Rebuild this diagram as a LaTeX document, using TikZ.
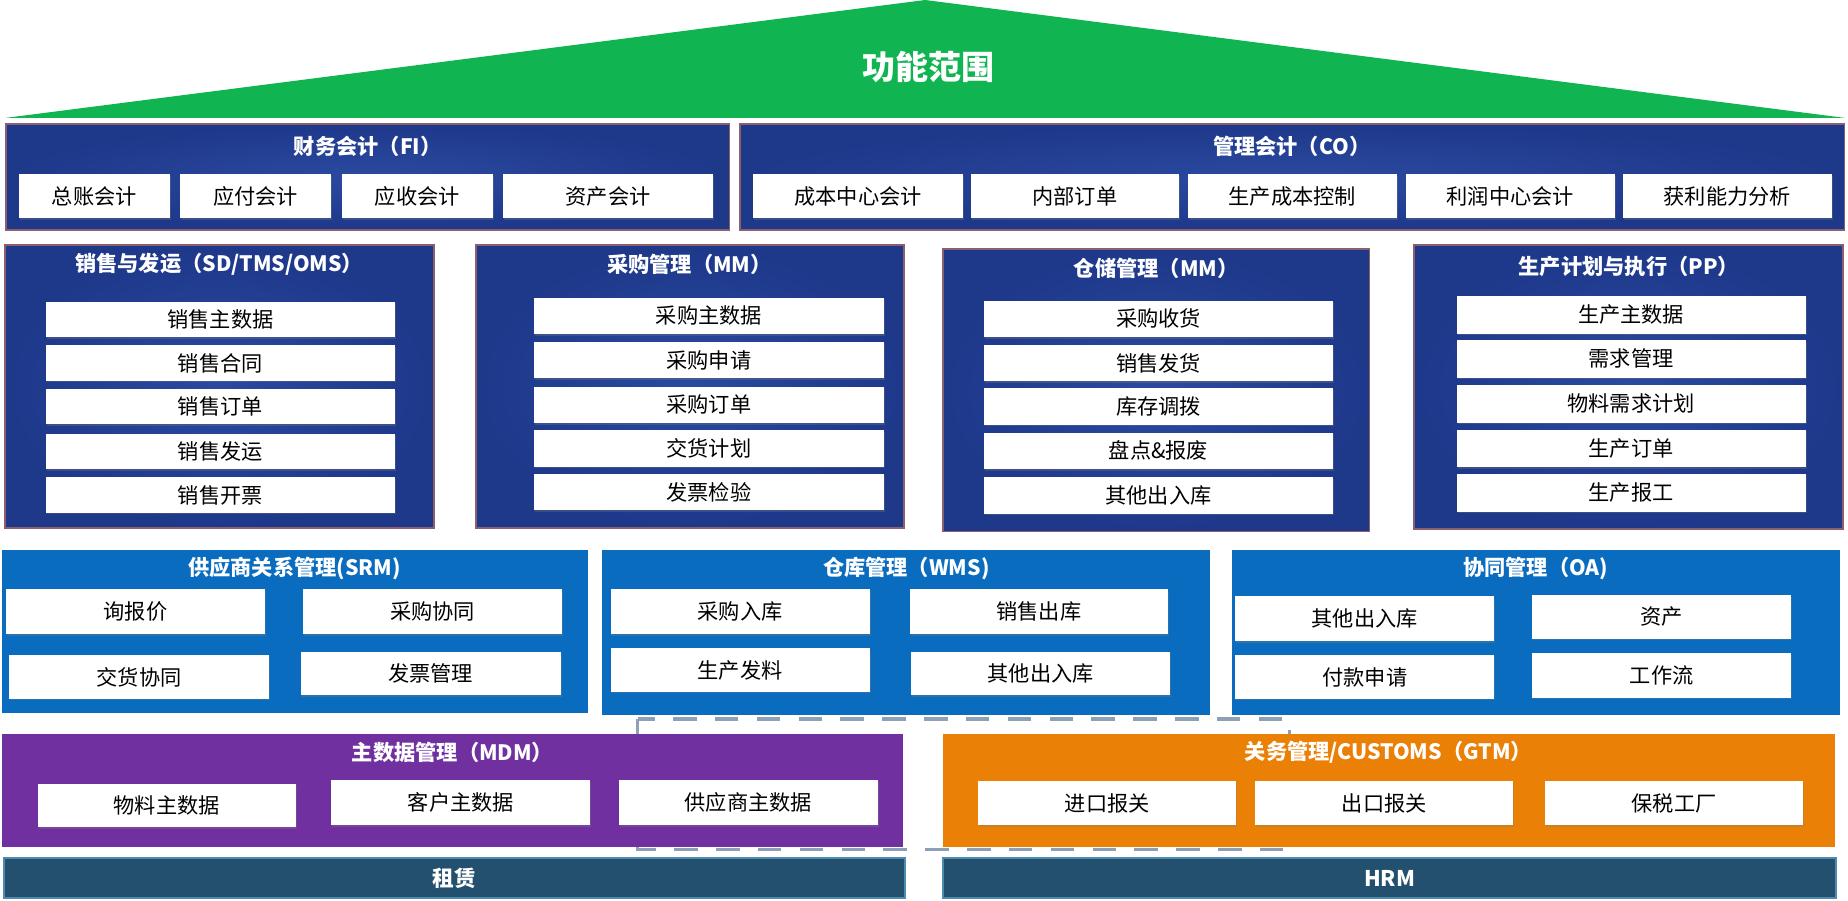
\documentclass[tikz,border=0pt]{standalone}
\usepackage{fontspec}
\setmainfont{Noto Sans CJK SC}
\usetikzlibrary{shadows}

\definecolor{scopegreen}{HTML}{10B450}
\definecolor{modinner}{HTML}{2A4AA0}
\definecolor{modouter}{HTML}{1E388A}
\definecolor{modframe}{HTML}{8B5F6E}
\definecolor{colblue}{HTML}{0A6CBF}
\definecolor{mdmpurple}{HTML}{7030A0}
\definecolor{gtmorange}{HTML}{EB8007}
\definecolor{basefill}{HTML}{22506E}
\definecolor{baseframe}{HTML}{4D8BB0}
\definecolor{dashgray}{HTML}{8DA0B5}

\begin{document}
\begin{tikzpicture}[
  x=0.6pt, y=-0.6pt,
  dims/.style 2 args = {minimum width=#1*0.6pt, minimum height=#2*0.6pt},
  module/.style = {draw=modframe, line width=0.9pt, inner sep=0pt,
                   inner color=modinner, outer color=modouter},
  collab/.style = {fill=colblue, inner sep=0pt},
  mdmbox/.style = {fill=mdmpurple, inner sep=0pt},
  gtmbox/.style = {fill=gtmorange, inner sep=0pt},
  basebar/.style = {fill=basefill, draw=baseframe, line width=1pt, inner sep=0pt,
                    text=white, font=\bfseries\fontsize{11}{12}\selectfont},
  item/.style = {fill=white, inner sep=0pt, font=\fontsize{10.8}{12}\selectfont,
                 drop shadow={shadow xshift=0.5pt, shadow yshift=-0.8pt, opacity=0.3}},
  head/.style = {text=white, inner sep=0pt, font=\bfseries\fontsize{10.8}{12}\selectfont},
]
  \useasboundingbox (0,0) rectangle (1568,764);

  % roof
  \fill[scopegreen] (5,100) -- (785,0) -- (1565,100) -- cycle;
  \node[text=white, inner sep=0pt, font=\bfseries\fontsize{16.8}{18}\selectfont] (scopeT) at (788,57) {功能范围};

  % dashed frame behind the lower rows
  \draw[dashgray, line width=1.7pt, dash pattern=on 12pt off 9.3pt] (541,610) rectangle (1094,721);

  % financial accounting
  \node[module, dims={614}{90}] (fi) at (312,150) {};
  \node[head] (fiT) at (312,124) {财务会计（FI）};
  \node[item, dims={128}{37}] (fi1) at (80,166.5)  {总账会计};
  \node[item, dims={128}{37}] (fi2) at (217,166.5) {应付会计};
  \node[item, dims={128}{37}] (fi3) at (354,166.5) {应收会计};
  \node[item, dims={178}{37}] (fi4) at (516,166.5) {资产会计};

  % controlling
  \node[module, dims={937}{90}] (co) at (1096.5,150) {};
  \node[head] (coT) at (1096,124) {管理会计（CO）};
  \node[item, dims={178}{37}] (co1) at (728,166.5)    {成本中心会计};
  \node[item, dims={176}{37}] (co2) at (912,166.5)    {内部订单};
  \node[item, dims={177}{37}] (co3) at (1096.5,166.5) {生产成本控制};
  \node[item, dims={177}{37}] (co4) at (1281.5,166.5) {利润中心会计};
  \node[item, dims={177}{37}] (co5) at (1465.5,166.5) {获利能力分析};

  % sales and distribution
  \node[module, dims={364}{240}] (sd) at (186,328) {};
  \node[head] (sdT) at (186,224) {销售与发运（SD/TMS/OMS）};
  \node[item, dims={296}{30}] (sd1) at (187,271) {销售主数据};
  \node[item, dims={296}{30}] (sd2) at (187,308) {销售合同};
  \node[item, dims={296}{30}] (sd3) at (187,345) {销售订单};
  \node[item, dims={296}{30}] (sd4) at (187,383) {销售发运};
  \node[item, dims={296}{30}] (sd5) at (187,420) {销售开票};

  % purchasing
  \node[module, dims={363}{240}] (mm) at (585.5,328) {};
  \node[head] (mmT) at (585,224) {采购管理（MM）};
  \node[item, dims={297}{31}] (mm1) at (601.5,268)   {采购主数据};
  \node[item, dims={297}{31}] (mm2) at (601.5,305.5) {采购申请};
  \node[item, dims={297}{31}] (mm3) at (601.5,343.5) {采购订单};
  \node[item, dims={297}{31}] (mm4) at (601.5,380.5) {交货计划};
  \node[item, dims={297}{31}] (mm5) at (601.5,417.5) {发票检验};

  % inventory
  \node[module, dims={362}{240}] (wh) at (981,331) {};
  \node[head] (whT) at (981,228) {仓储管理（MM）};
  \node[item, dims={296}{31}] (wh1) at (983,270.5) {采购收货};
  \node[item, dims={296}{31}] (wh2) at (983,308)   {销售发货};
  \node[item, dims={296}{31}] (wh3) at (983,345)   {库存调拨};
  \node[item, dims={296}{31}] (wh4) at (983,382.5) {盘点\&报废};
  \node[item, dims={296}{31}] (wh5) at (983,420.5) {其他出入库};

  % production
  \node[module, dims={364}{241}] (pp) at (1382,328.5) {};
  \node[head] (ppT) at (1382,226) {生产计划与执行（PP）};
  \node[item, dims={296}{32}] (pp1) at (1384,267)   {生产主数据};
  \node[item, dims={296}{32}] (pp2) at (1384,304.5) {需求管理};
  \node[item, dims={296}{32}] (pp3) at (1384,342.5) {物料需求计划};
  \node[item, dims={296}{32}] (pp4) at (1384,380.5) {生产订单};
  \node[item, dims={296}{32}] (pp5) at (1384,418)   {生产报工};

  % supplier relationship
  \node[collab, dims={497}{138}] (srm) at (250.5,536) {};
  \node[head] (srmT) at (250,482) {供应商关系管理(SRM)};
  \node[item, dims={220}{38}] (srm1) at (115,519)     {询报价};
  \node[item, dims={220}{38}] (srm2) at (367,519)     {采购协同};
  \node[item, dims={220}{37}] (srm3) at (118,574.5)   {交货协同};
  \node[item, dims={221}{37}] (srm4) at (365.5,571.5) {发票管理};

  % warehouse management
  \node[collab, dims={516}{140}] (wms) at (769,537) {};
  \node[head] (wmsT) at (769,482) {仓库管理（WMS)};
  \node[item, dims={220}{38}] (wms1) at (628,519)   {采购入库};
  \node[item, dims={219}{38}] (wms2) at (881.5,519) {销售出库};
  \node[item, dims={220}{37}] (wms3) at (628,568.5) {生产发料};
  \node[item, dims={220}{37}] (wms4) at (883,571.5) {其他出入库};

  % office automation
  \node[collab, dims={516}{140}] (oa) at (1303,537) {};
  \node[head] (oaT) at (1303,482) {协同管理（OA)};
  \node[item, dims={220}{38}] (oa1) at (1158,525)   {其他出入库};
  \node[item, dims={220}{37}] (oa2) at (1410,523.5) {资产};
  \node[item, dims={220}{37}] (oa3) at (1158,574.5) {付款申请};
  \node[item, dims={220}{38}] (oa4) at (1410,573)   {工作流};

  % master data
  \node[mdmbox, dims={764}{96}] (mdm) at (384,671) {};
  \node[head] (mdmT) at (384,638) {主数据管理（MDM）};
  \node[item, dims={219}{37}] (mdm1) at (141.5,683.5) {物料主数据};
  \node[item, dims={220}{38}] (mdm2) at (391,681)     {客户主数据};
  \node[item, dims={220}{38}] (mdm3) at (635,681)     {供应商主数据};

  % customs
  \node[gtmbox, dims={757}{96}] (gtm) at (1178.5,671) {};
  \node[head] (gtmT) at (1178,638) {关务管理/CUSTOMS（GTM）};
  \node[item, dims={219}{37}] (gtm1) at (939.5,681.5)  {进口报关};
  \node[item, dims={219}{37}] (gtm2) at (1174.5,681.5) {出口报关};
  \node[item, dims={219}{37}] (gtm3) at (1420.5,681.5) {保税工厂};

  % base bars
  \node[basebar, dims={765}{34}] (lease) at (385.5,745) {租赁};
  \node[basebar, dims={758}{34}] (hrm)   at (1179,745)  {HRM};
\end{tikzpicture}
\end{document}
